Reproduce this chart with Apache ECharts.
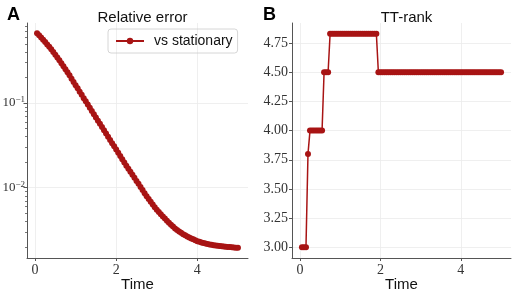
<!DOCTYPE html>
<html><head><meta charset="utf-8">
<script src="https://cdn.jsdelivr.net/npm/echarts@6/dist/echarts.min.js"></script>
<style>html,body{margin:0;padding:0;background:#fff}#c{width:512px;height:290px}</style>
</head><body><div id="c"></div>
<script>
const time = [0.05,0.1,0.15,0.2,0.25,0.3,0.35,0.4,0.45,0.5,
0.55,0.6,0.65,0.7,0.75,0.8,0.85,0.9,0.95,1.0,
1.05,1.1,1.15,1.2,1.25,1.3,1.35,1.4,1.45,1.5,
1.55,1.6,1.65,1.7,1.75,1.8,1.85,1.9,1.95,2.0,
2.05,2.1,2.15,2.2,2.25,2.3,2.35,2.4,2.45,2.5,
2.55,2.6,2.65,2.7,2.75,2.8,2.85,2.9,2.95,3.0,
3.05,3.1,3.15,3.2,3.25,3.3,3.35,3.4,3.45,3.5,
3.55,3.6,3.65,3.7,3.75,3.8,3.85,3.9,3.95,4.0,
4.05,4.1,4.15,4.2,4.25,4.3,4.35,4.4,4.45,4.5,
4.55,4.6,4.65,4.7,4.75,4.8,4.85,4.9,4.95,5.0];
const relErr = [0.665,0.631,0.594,0.560,0.525,0.492,0.460,0.430,0.400,0.372,
0.344,0.319,0.295,0.272,0.251,0.231,0.212,0.194,0.177,0.162,
0.149,0.136,0.125,0.114,0.105,0.0959,0.0879,0.0805,0.0738,0.0676,
0.0619,0.0568,0.0520,0.0476,0.0437,0.0400,0.0366,0.0336,0.0308,0.0282,
0.0258,0.0237,0.0217,0.0199,0.0182,0.0167,0.0154,0.0142,0.0131,0.0120,
0.0111,0.0102,0.00938,0.00863,0.00794,0.00735,0.00682,0.00634,0.00589,0.00550,
0.00516,0.00486,0.00457,0.00432,0.00407,0.00386,0.00366,0.00348,0.00331,0.00316,
0.00304,0.00293,0.00283,0.00274,0.00266,0.00259,0.00252,0.00246,0.00240,0.00234,
0.00230,0.00226,0.00223,0.00219,0.00216,0.00214,0.00212,0.00210,0.00208,0.00207,
0.00205,0.00204,0.00202,0.00201,0.00200,0.00199,0.00198,0.00197,0.00196,0.00196];
const ttRank = [3,3,3,3.8,4,4,4,4,4,4,
4,4.5,4.5,4.5,4.83,4.83,4.83,4.83,4.83,4.83,
4.83,4.83,4.83,4.83,4.83,4.83,4.83,4.83,4.83,4.83,
4.83,4.83,4.83,4.83,4.83,4.83,4.83,4.83,4.5,4.5,
4.5,4.5,4.5,4.5,4.5,4.5,4.5,4.5,4.5,4.5,
4.5,4.5,4.5,4.5,4.5,4.5,4.5,4.5,4.5,4.5,
4.5,4.5,4.5,4.5,4.5,4.5,4.5,4.5,4.5,4.5,
4.5,4.5,4.5,4.5,4.5,4.5,4.5,4.5,4.5,4.5,
4.5,4.5,4.5,4.5,4.5,4.5,4.5,4.5,4.5,4.5,
4.5,4.5,4.5,4.5,4.5,4.5,4.5,4.5,4.5,4.5];
const xTicks = [0, 2, 4];
const logMajor = [0.01, 0.1];
const logMinor = [0.002,0.003,0.004,0.005,0.006,0.007,0.008,0.009,0.02,0.03,0.04,0.05,0.06,0.07,0.08,0.09,0.2,0.3,0.4,0.5,0.6,0.7,0.8];
const rankTicks = [3.0, 3.25, 3.5, 3.75, 4.0, 4.25, 4.5, 4.75];
const titles = ['Relative error', 'TT-rank'];
const panelLabels = ['A', 'B'];
const seriesName = 'vs stationary';
const xName = 'Time';

const RED = '#a81414';
const AX = '#555';
const GRIDC = '#ebebeb';
const serif = 'Liberation Serif';
const sans = 'Liberation Sans';

function xAxisCfg(gi) {
  return {
    type: 'value', gridIndex: gi, min: -0.1975, max: 5.2475,
    name: xName, nameLocation: 'middle', nameGap: 19, nameMoveOverlap: false,
    nameTextStyle: { fontFamily: sans, fontSize: 15, color: '#111' },
    axisLine: { show: true, onZero: false, lineStyle: { color: AX, width: 1 } },
    axisTick: { show: true, customValues: xTicks, length: 3, lineStyle: { color: AX } },
    axisLabel: { customValues: xTicks, margin: 5, fontFamily: serif, fontSize: 14, color: '#333' },
    splitLine: { show: true, lineStyle: { color: GRIDC, width: 0.8 } }
  };
}

const chart = echarts.init(document.getElementById('c'), null, { renderer: 'canvas' });
chart.setOption({
  animation: false,
  backgroundColor: '#fff',
  title: [
    { text: titles[0], left: 137.5, top: 5, textAlign: 'center', textStyle: { fontFamily: sans, fontSize: 15, fontWeight: 'normal', color: '#111' } },
    { text: titles[1], left: 401.5, top: 5, textAlign: 'center', textStyle: { fontFamily: sans, fontSize: 15, fontWeight: 'normal', color: '#111' } },
    { text: panelLabels[0], left: 2, top: 1, textStyle: { fontFamily: sans, fontSize: 18, fontWeight: 'bold', color: '#000' } },
    { text: panelLabels[1], left: 258, top: 1, textStyle: { fontFamily: sans, fontSize: 18, fontWeight: 'bold', color: '#000' } }
  ],
  legend: {
    data: [seriesName], left: 108, top: 29,
    padding: [5, 5, 5, 7], itemWidth: 28, itemHeight: 8,
    borderColor: '#ccc', borderWidth: 0.8, borderRadius: 3,
    textStyle: { fontFamily: sans, fontSize: 14, color: '#111', padding: [0, 0, 0, 5] }
  },
  grid: [
    { left: 27, right: 264, top: 23, bottom: 32, outerBoundsMode: 'none', containLabel: false },
    { left: 292, right: 1, top: 23, bottom: 32, outerBoundsMode: 'none', containLabel: false }
  ],
  xAxis: [xAxisCfg(0), xAxisCfg(1)],
  yAxis: [
    {
      type: 'log', gridIndex: 0, logBase: 10, min: 0.00148, max: 0.88,
      axisLine: { show: true, onZero: false, lineStyle: { color: AX, width: 1 } },
      axisTick: { show: true, customValues: logMajor, length: 3.5, lineStyle: { color: AX } },
      axisLabel: {
        customValues: logMajor, margin: 2, color: '#333',
        formatter: function (v) {
          const e = Math.round(Math.log10(v));
          return '{b|10}{s|\u2212' + Math.abs(e) + '}';
        },
        rich: {
          b: { fontFamily: serif, fontSize: 13, color: '#333' },
          s: { fontFamily: serif, fontSize: 9, color: '#333', padding: [0, 0, 7, 0] }
        }
      },
      splitLine: { show: true, lineStyle: { color: GRIDC, width: 0.8 } }
    },
    {
      type: 'log', gridIndex: 0, logBase: 10, min: 0.00148, max: 0.88, position: 'left', offset: 0,
      axisLine: { show: false, onZero: false },
      axisTick: { show: true, customValues: logMinor, length: 2, lineStyle: { color: AX, width: 0.8 } },
      axisLabel: { show: false },
      splitLine: { show: false }
    },
    {
      type: 'value', gridIndex: 1, min: 2.9085, max: 4.9215,
      axisLine: { show: true, onZero: false, lineStyle: { color: AX, width: 1 } },
      axisTick: { show: true, customValues: rankTicks, length: 3, lineStyle: { color: AX } },
      axisLabel: {
        customValues: rankTicks, margin: 4, fontFamily: serif, fontSize: 14, color: '#333',
        formatter: function (v) { return v.toFixed(2); }
      },
      splitLine: { show: true, lineStyle: { color: GRIDC, width: 0.8 } }
    }
  ],
  series: [
    {
      name: seriesName, type: 'line', xAxisIndex: 0, yAxisIndex: 0,
      data: time.map((t, i) => [t, relErr[i]]),
      symbol: 'circle', symbolSize: 6, showAllSymbol: true,
      lineStyle: { color: RED, width: 1.5 }, itemStyle: { color: RED }
    },
    {
      name: 'rank', type: 'line', xAxisIndex: 1, yAxisIndex: 2,
      data: time.map((t, i) => [t, ttRank[i]]),
      symbol: 'circle', symbolSize: 6, showAllSymbol: true,
      lineStyle: { color: RED, width: 1.5 }, itemStyle: { color: RED }
    }
  ]
});
</script></body></html>
